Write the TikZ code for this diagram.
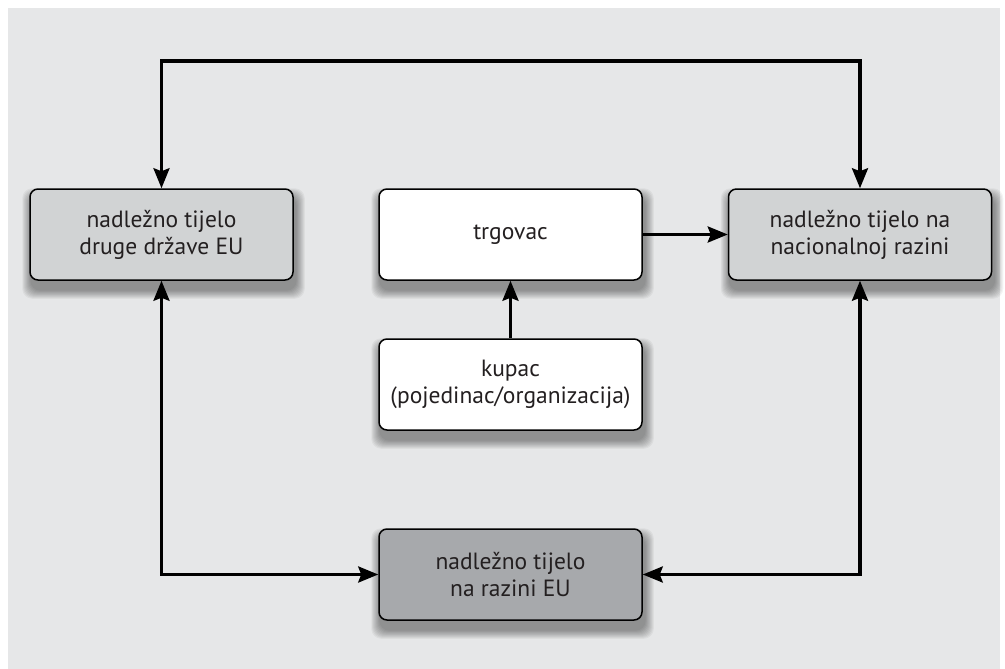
\documentclass[tikz,border=0pt]{standalone}
\usepackage{fontspec}
\setmainfont{PT Sans}
\usetikzlibrary{arrows.meta}
\pgfdeclarelayer{panel}
\pgfdeclarelayer{shadow}
\pgfsetlayers{panel,shadow,main}
\definecolor{panelgray}{HTML}{E6E7E8}
\definecolor{boxgray}{HTML}{D1D3D4}
\definecolor{eugray}{HTML}{A7A9AC}
\definecolor{inkblack}{HTML}{231F20}
\newcommand\myshadow[1]{%
  \begin{pgfonlayer}{shadow}
    \foreach \k in {1,...,10}{
      \pgfmathsetlengthmacro{\e}{\k*0.9pt}
      \fill[black,opacity=0.045,rounded corners=10pt]
        ([xshift=2pt-\e, yshift=-9pt-\e]#1.south west) rectangle
        ([xshift=2pt+\e, yshift=-9pt+\e]#1.north east);
    }
  \end{pgfonlayer}}
\begin{document}
\begin{tikzpicture}[x=1pt,y=-1pt,
  box/.style={draw=black, line width=1.5pt, rounded corners=8pt,
    minimum width=263pt, minimum height=91pt, align=center,
    text=inkblack, font=\fontsize{23.5}{27}\selectfont, inner sep=0pt},
  conn/.style={line width=3.3pt, -{Stealth[length=20pt,width=16pt,inset=3pt]}},
  both/.style={line width=3.3pt, {Stealth[length=20pt,width=16pt,inset=3pt]}-{Stealth[length=20pt,width=16pt,inset=3pt]}}]
\useasboundingbox (0,0) rectangle (1005,669);
\begin{pgfonlayer}{panel}
  \fill[panelgray] (8,8) rectangle (1000,669);
\end{pgfonlayer}

\node[box, fill=boxgray] (drz) at (161.5,234.5) {nadležno tijelo\\druge države EU};
\node[box, fill=white] (trg) at (510.5,234.5) {trgovac};
\node[box, fill=boxgray] (nac) at (860,234.5) {nadležno tijelo na\\nacionalnoj razini};
\node[box, fill=white] (kup) at (510.5,384.5) {kupac\\(pojedinac/organizacija)};
\node[box, fill=eugray] (eu) at (510.5,574.5) {nadležno tijelo\\na razini EU};

\myshadow{drz}
\myshadow{trg}
\myshadow{nac}
\myshadow{kup}
\myshadow{eu}

\coordinate (toprow) at (0,61);
\draw[both] (drz.north) -- (drz.north |- toprow) -| (nac.north);
\draw[both] (drz.south) |- (eu.west);
\draw[both] (nac.south) |- (eu.east);
\draw[conn] (trg) -- (nac);
\draw[conn] (kup) -- (trg);
\end{tikzpicture}
\end{document}
